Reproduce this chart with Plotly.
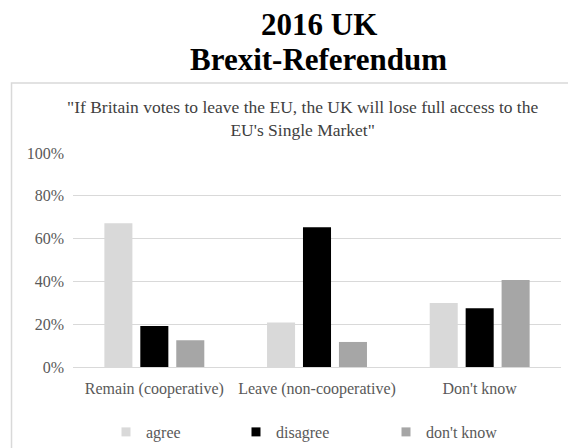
import plotly.graph_objects as go

categories = ["Remain (cooperative)", "Leave (non-cooperative)", "Don't know"]
agree = [67.2, 20.8, 29.9]
disagree = [19.2, 65.3, 27.4]
dont_know = [12.5, 11.7, 40.6]
series_names = ["agree", "disagree", "don't know"]
colors = ["#D9D9D9", "#000000", "#A6A6A6"]
y_ticks = [0, 20, 40, 60, 80, 100]
y_tick_labels = ["0%", "20%", "40%", "60%", "80%", "100%"]
title_lines = ["2016 UK", "Brexit-Referendum"]
subtitle = '"If Britain votes to leave the EU, the UK will lose full access to the<br>EU\'s Single Market"'

FONT = "Liberation Serif"
GREY = "#595959"

fig = go.Figure()
legend_ids = ["legend", "legend2", "legend3"]
for name, vals, col in zip(series_names, [agree, disagree, dont_know], colors):
    fig.add_trace(go.Bar(x=categories, y=vals, name=name, showlegend=False,
                         marker=dict(color=col, line=dict(width=0))))
# legend entries (small square swatches like the original)
for name, col, lg in zip(series_names, colors, legend_ids):
    fig.add_trace(go.Scatter(x=[None], y=[None], mode="markers", name=name, legend=lg,
                             marker=dict(symbol="square", size=9, color=col), hoverinfo="skip"))

legend_x = [0.0676, 0.334, 0.6414]
legend_common = dict(orientation="h", y=-0.3037, yanchor="middle", xanchor="left",
                     font=dict(family=FONT, size=16, color=GREY), itemwidth=30,
                     bgcolor="rgba(0,0,0,0)")

# the page body adds an 8px offset; margins compensate for it
fig.update_layout(
    width=576, height=448,
    margin=dict(l=65, r=23, t=145, b=89, autoexpand=False),
    paper_bgcolor="white", plot_bgcolor="white",
    barmode="group", bargap=0.337, bargroupgap=0.22,
    font=dict(family=FONT, color=GREY, size=16),
    showlegend=True,
    legend=dict(x=legend_x[0], **legend_common),
    legend2=dict(x=legend_x[1], **legend_common),
    legend3=dict(x=legend_x[2], **legend_common),
    xaxis=dict(showline=False, ticks="", tickfont=dict(family=FONT, size=16, color=GREY),
               ticklabelstandoff=10, fixedrange=True),
    yaxis=dict(range=[0, 100], tickvals=y_ticks, ticktext=y_tick_labels, showgrid=True, gridcolor="#D9D9D9",
               gridwidth=1.2, zeroline=True, zerolinecolor="#D9D9D9", zerolinewidth=1.2, showline=False, ticks="",
               tickfont=dict(family=FONT, size=16, color=GREY), ticklabelstandoff=8, fixedrange=True),
    shapes=[dict(type="rect", xref="paper", yref="paper", x0=-0.126, x1=1.1, y0=-0.6, y1=1.327,
                 line=dict(color="#D9D9D9", width=1.5), fillcolor="rgba(0,0,0,0)", layer="below")],
    annotations=[
        dict(text="<b>%s</b>" % title_lines[0], xref="paper", yref="paper", x=0.504, y=1.6005,
             xanchor="center", yanchor="middle", showarrow=False,
             font=dict(family=FONT, size=31, color="black")),
        dict(text="<b>%s</b>" % title_lines[1], xref="paper", yref="paper", x=0.504, y=1.4369,
             xanchor="center", yanchor="middle", showarrow=False,
             font=dict(family=FONT, size=31, color="black")),
        dict(text=subtitle, xref="paper", yref="paper", x=0.471, y=1.162,
             xanchor="center", yanchor="middle", showarrow=False,
             font=dict(family=FONT, size=17.5, color="#404040")),
    ],
)

fig.write_html("out.html")
